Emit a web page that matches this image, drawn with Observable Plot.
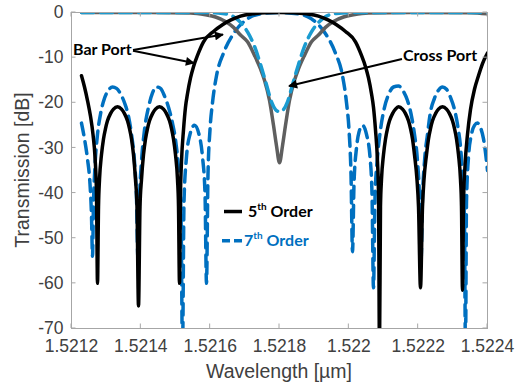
<!DOCTYPE html>
<html><head><meta charset="utf-8">
<script src="https://cdn.jsdelivr.net/npm/d3@7"></script>
<script src="https://cdn.jsdelivr.net/npm/@observablehq/plot@0.6"></script>
<style>
html,body{margin:0;padding:0;background:#fff;}
#chart{width:522px;height:387px;}
</style></head><body><div id="chart"></div>
<script>
// ---- tick values ----
const xTicks = [1.5212, 1.5214, 1.5216, 1.5218, 1.522, 1.5222, 1.5224];
const yTicks = [0, -10, -20, -30, -40, -50, -60, -70];

// ---- 5th order, bar port (black) ----
const bar5WL = [1.5212288,1.5212375,1.5212462,1.5212548,1.5212620,1.5212678,1.5212721,1.5212750,1.5212779,1.5212808,1.5212865,1.5212923,1.5212981,1.5213038,1.5213125,1.5213212,1.5213327,1.5213442,1.5213529,1.5213615,1.5213673,1.5213731,1.5213788,1.5213846,1.5213889,1.5213933,1.5213976,1.5214019,1.5214077,1.5214135,1.5214192,1.5214250,1.5214337,1.5214423,1.5214538,1.5214654,1.5214740,1.5214827,1.5214885,1.5214942,1.5215000,1.5215058,1.5215087,1.5215115,1.5215144,1.5215173,1.5215231,1.5215288,1.5215346,1.5215433,1.5215519,1.5215635,1.5215808,1.5216096,1.5216356,1.5216587,1.5216875,1.5217221,1.5217596,1.5218000,1.5218404,1.5218779,1.5219125,1.5219413,1.5219644,1.5219904,1.5220192,1.5220365,1.5220481,1.5220567,1.5220654,1.5220711,1.5220769,1.5220827,1.5220856,1.5220885,1.5220913,1.5220942,1.5221000,1.5221058,1.5221115,1.5221173,1.5221260,1.5221346,1.5221433,1.5221548,1.5221635,1.5221721,1.5221779,1.5221837,1.5221894,1.5221966,1.5222010,1.5222067,1.5222125,1.5222168,1.5222240,1.5222298,1.5222356,1.5222413,1.5222500,1.5222586,1.5222702,1.5222817,1.5222904,1.5222990,1.5223048,1.5223106,1.5223163,1.5223221,1.5223250,1.5223279,1.5223308,1.5223351,1.5223423,1.5223510,1.5223625,1.5223740,1.5223856,1.5224000];
const bar5dB = [-14,-16.5,-19.5,-23,-27,-32,-40,-60,-43,-37,-31.5,-28,-25.7,-24,-22.4,-21.4,-20.9,-21.4,-22.4,-24,-25.7,-28,-31.5,-37,-43,-65,-43,-37,-31.5,-28,-25.7,-24,-22.4,-21.4,-20.9,-21.4,-22.4,-24,-25.7,-28,-31.5,-37,-43,-60,-40,-33,-26,-21,-18,-14.5,-12,-9.5,-6.5,-4.2,-2.7,-1.7,-0.8,-0.3,-0.05,0,-0.05,-0.3,-0.8,-1.7,-2.7,-4.2,-6.5,-9.5,-12,-14.5,-18,-21,-26,-33,-40,-75,-43,-37,-31.5,-28,-25.7,-24,-22.4,-21.4,-20.9,-21.4,-22.4,-24,-25.7,-28,-31.5,-37,-43,-61,-43,-37,-31.5,-28,-25.7,-24,-22.4,-21.4,-20.9,-21.4,-22.4,-24,-25.7,-28,-31.5,-37,-43,-61.5,-42,-34,-27,-21.5,-17,-14,-11.3,-9];

// ---- 5th order, cross port (grey) ----
const cross5WL = [1.5212288,1.5214279,1.5215433,1.5215865,1.5216154,1.5216442,1.5216673,1.5216875,1.5217077,1.5217279,1.5217452,1.5217567,1.5217712,1.5217827,1.5217913,1.5218000,1.5218087,1.5218173,1.5218288,1.5218433,1.5218548,1.5218721,1.5218923,1.5219125,1.5219327,1.5219558,1.5219846,1.5220135,1.5220567,1.5221779,1.5223510,1.5224000];
const cross5dB = [0,0,-0.1,-0.5,-1,-2,-3.3,-5,-6.5,-9.5,-12.5,-15,-19.5,-25,-29.5,-33.3,-29.5,-25,-19.5,-15,-12.5,-9.5,-6.5,-5,-3.3,-2,-1,-0.5,-0.1,0,-0.05,-0.3];

// ---- 7th order, bar port (blue dashed) ----
const bar7WL = [1.5212288,1.5212375,1.5212462,1.5212534,1.5212577,1.5212606,1.5212635,1.5212678,1.5212750,1.5212837,1.5212952,1.5213067,1.5213183,1.5213298,1.5213413,1.5213529,1.5213644,1.5213731,1.5213817,1.5213875,1.5213918,1.5213962,1.5214019,1.5214106,1.5214221,1.5214337,1.5214452,1.5214567,1.5214683,1.5214798,1.5214913,1.5215014,1.5215101,1.5215159,1.5215202,1.5215245,1.5215317,1.5215418,1.5215548,1.5215678,1.5215779,1.5215851,1.5215894,1.5215937,1.5215995,1.5216067,1.5216183,1.5216385,1.5216673,1.5217077,1.5217452,1.5218000,1.5218548,1.5218923,1.5219327,1.5219615,1.5219817,1.5219933,1.5220005,1.5220063,1.5220106,1.5220149,1.5220221,1.5220293,1.5220394,1.5220510,1.5220611,1.5220668,1.5220711,1.5220755,1.5220827,1.5220913,1.5221029,1.5221144,1.5221288,1.5221433,1.5221577,1.5221692,1.5221808,1.5221894,1.5221981,1.5222038,1.5222082,1.5222125,1.5222183,1.5222269,1.5222356,1.5222471,1.5222586,1.5222702,1.5222817,1.5222933,1.5223048,1.5223149,1.5223236,1.5223293,1.5223336,1.5223365,1.5223394,1.5223452,1.5223538,1.5223625,1.5223712,1.5223798,1.5223885,1.5223942,1.5224000];
const bar7dB = [-24.5,-28,-32.5,-38,-45,-54,-42,-34,-27,-22.5,-19,-17.2,-16.5,-16.8,-18,-20,-23,-27,-33,-41,-55,-41,-33,-26,-21,-17.8,-16.5,-16.8,-18.5,-21,-24.5,-29,-36,-45,-75,-42,-32,-27,-25,-27,-32,-40,-60,-36,-26,-20,-14,-9,-4.7,-1.4,-0.3,0,-0.3,-1.4,-4.7,-9,-14,-20,-26,-36,-53,-38,-30,-26.5,-25,-27,-32,-40,-61,-41,-32,-26,-21,-18.2,-16.5,-16.3,-17.5,-19.5,-23,-27,-33,-41,-55,-41,-33,-27,-22,-19,-17.2,-16.5,-17,-18.8,-21.5,-25.5,-31,-38,-47,-75,-42,-32,-27,-25,-24.5,-25.5,-28,-31,-35];

// ---- 7th order, cross port (light blue dashed) ----
const cross7WL = [1.5212288,1.5215721,1.5216356,1.5216644,1.5216875,1.5217077,1.5217279,1.5217452,1.5217625,1.5217769,1.5217885,1.5218000,1.5218115,1.5218231,1.5218375,1.5218548,1.5218721,1.5218923,1.5219125,1.5219356,1.5219644,1.5220279,1.5224000];
const cross7dB = [0,0,-0.2,-0.8,-2.2,-4.3,-7.5,-11.5,-16,-19.8,-21.5,-22,-21.5,-19.8,-16,-11.5,-7.5,-4.3,-2.2,-0.8,-0.2,0,0];

// ---- annotations (data coordinates) ----
const barLabel = {text: "Bar Port", x: 1.5212058, y: -8.3};
const crossLabel = {text: "Cross Port", x: 1.5221577, y: -9.6};
const arrows = [
  {x1: 1.5213788, y1: -8.4, x2: 1.5216385, y2: -5.0},
  {x1: 1.5213788, y1: -8.6, x2: 1.5215548, y2: -11.3},
  {x1: 1.5221548, y1: -10.4, x2: 1.5218288, y2: -16.4}
];
const legendItems = [
  {order: "5", color: "#000000", dash: null, x1: 1.5216413, x2: 1.5216933, tx: 1.5217106, y: -44.2},
  {order: "7", color: "#0070c0", dash: "8,4", x1: 1.5216356, x2: 1.5216962, tx: 1.5216990, y: -50.7}
];

const toRows = (wl, db) => wl.map((w, i) => ({wl: w, db: db[i]}));
const bar5 = toRows(bar5WL, bar5dB);
const cross5 = toRows(cross5WL, cross5dB);
const bar7 = toRows(bar7WL, bar7dB);
const cross7 = toRows(cross7WL, cross7dB);

const fmt = d => String(d);

const chart = Plot.plot({
  width: 522, height: 387,
  marginLeft: 71, marginRight: 35, marginTop: 12, marginBottom: 59,
  style: {fontFamily: "'Liberation Sans', Arial, sans-serif", fontSize: "17.5px", color: "#404040", background: "#fff", overflow: "visible"},
  x: {domain: [1.5212, 1.5224]},
  y: {domain: [-70, 0]},
  marks: [
    Plot.axisX(xTicks, {tickSize: 0, tickPadding: 11, tickFormat: fmt, label: null}),
    Plot.axisY(yTicks, {tickSize: 0, tickPadding: 8, tickFormat: fmt, label: null}),
    Plot.line(bar7, {x: "wl", y: "db", stroke: "#0070c0", strokeWidth: 3.5, strokeDasharray: "12,7", curve: "monotone-x", clip: true}),
    Plot.line(cross5, {x: "wl", y: "db", stroke: "#5f5f5f", strokeWidth: 3.5, curve: "monotone-x", clip: true}),
    Plot.line(cross7, {x: "wl", y: "db", stroke: "#1a9bd0", strokeWidth: 3.5, strokeDasharray: "12,7", curve: "monotone-x", clip: true}),
    Plot.line(bar5, {x: "wl", y: "db", stroke: "#000000", strokeWidth: 3.5, curve: "monotone-x", clip: true}),
    Plot.frame({stroke: "#a6a6a6", strokeWidth: 1})
  ]
});
document.getElementById("chart").appendChild(chart);

const svg = d3.select(chart);
const xs = chart.scale("x"), ys = chart.scale("y");
const X = v => xs.apply(v), Y = v => ys.apply(v);
const L = X(1.5212), R = X(1.5224), B = Y(-70), T = Y(0);

// inward tick marks on all four sides
const tk = svg.append("g").attr("stroke", "#a6a6a6").attr("stroke-width", 1);
xTicks.forEach(t => {
  tk.append("line").attr("x1", X(t)).attr("x2", X(t)).attr("y1", B).attr("y2", B - 4.5);
  tk.append("line").attr("x1", X(t)).attr("x2", X(t)).attr("y1", T).attr("y2", T + 4.5);
});
yTicks.forEach(t => {
  tk.append("line").attr("y1", Y(t)).attr("y2", Y(t)).attr("x1", L).attr("x2", L + 4.5);
  tk.append("line").attr("y1", Y(t)).attr("y2", Y(t)).attr("x1", R).attr("x2", R - 4.5);
});

// axis titles
svg.append("text").attr("x", (L + R) / 2).attr("y", 378).attr("text-anchor", "middle")
  .attr("fill", "#404040").attr("font-size", 19.5).attr("font-family", "'Liberation Sans', Arial, sans-serif")
  .text("Wavelength [µm]");
svg.append("text").attr("transform", `translate(29,${(T + B) / 2}) rotate(-90)`).attr("text-anchor", "middle")
  .attr("fill", "#404040").attr("font-size", 19.5).attr("font-family", "'Liberation Sans', Arial, sans-serif")
  .text("Transmission [dB]");

// arrowhead
svg.append("defs").append("marker").attr("id", "ah").attr("viewBox", "0 0 10 10")
  .attr("refX", 9).attr("refY", 5).attr("markerUnits", "userSpaceOnUse")
  .attr("markerWidth", 11).attr("markerHeight", 9).attr("orient", "auto")
  .append("path").attr("d", "M0,0L10,5L0,10z").attr("fill", "#000");

const ann = svg.append("g").attr("font-family", "Lato, 'Open Sans', sans-serif").attr("font-weight", 700)
  .attr("text-anchor", "start");
arrows.forEach(a => {
  ann.append("line").attr("x1", X(a.x1)).attr("y1", Y(a.y1)).attr("x2", X(a.x2)).attr("y2", Y(a.y2))
    .attr("stroke", "#000").attr("stroke-width", 2).attr("marker-end", "url(#ah)");
});
[barLabel, crossLabel].forEach(l => {
  ann.append("text").attr("x", X(l.x)).attr("y", Y(l.y)).attr("dy", "0.35em")
    .attr("text-anchor", "start").attr("font-size", 16).attr("fill", "#000")
    .text(l.text);
});

// legend
legendItems.forEach(it => {
  ann.append("line").attr("x1", X(it.x1)).attr("x2", X(it.x2)).attr("y1", Y(it.y)).attr("y2", Y(it.y))
    .attr("stroke", it.color).attr("stroke-width", 3.5).attr("stroke-dasharray", it.dash);
  const t = ann.append("text").attr("x", X(it.tx)).attr("y", Y(it.y) + 5.5)
    .attr("text-anchor", "start").attr("font-size", 16).attr("fill", it.color);
  t.append("tspan").text(it.order);
  t.append("tspan").attr("font-size", 10).attr("dy", -7).text("th");
  t.append("tspan").attr("dy", 7).text(" Order");
});
</script>
</body></html>
